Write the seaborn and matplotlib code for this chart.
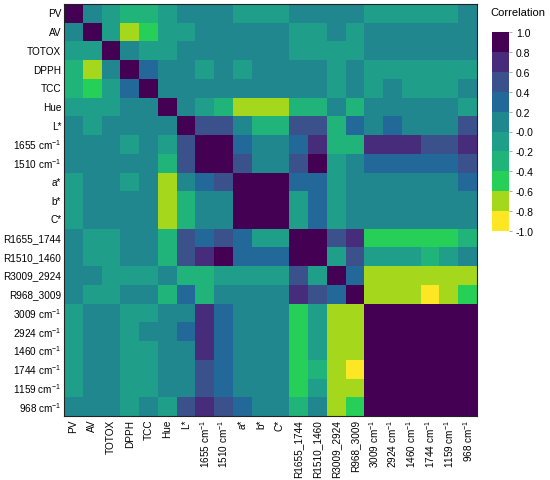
import numpy as np
import pandas as pd
import matplotlib
matplotlib.use("Agg")
import matplotlib.pyplot as plt
from matplotlib.colors import ListedColormap
import seaborn as sns

labels = ["PV", "AV", "TOTOX", "DPPH", "TCC", "Hue", "L*",
          "1655 cm$^{-1}$", "1510 cm$^{-1}$", "a*", "b*", "C*",
          "R1655_1744", "R1510_1460", "R3009_2924", "R968_3009",
          "3009 cm$^{-1}$", "2924 cm$^{-1}$", "1460 cm$^{-1}$",
          "1744 cm$^{-1}$", "1159 cm$^{-1}$", "968 cm$^{-1}$"]

# lower triangle of the correlation matrix (row by row, diagonal included)
r_pv = [1.0]
r_av = [0.1, 1.0]
r_totox = [-0.1, -0.1, 1.0]
r_dpph = [-0.3, -0.7, 0.1, 1.0]
r_tcc = [-0.3, -0.5, -0.1, 0.3, 1.0]
r_hue = [-0.1, -0.1, -0.1, 0.1, 0.1, 1.0]
r_l = [0.1, -0.1, 0.1, 0.1, 0.1, 0.1, 1.0]
r_1655 = [0.1, 0.1, 0.1, -0.1, 0.1, -0.1, 0.5, 1.0]
r_1510 = [0.1, 0.1, 0.1, 0.1, 0.1, -0.3, 0.5, 0.92, 1.0]
r_a = [-0.1, 0.1, 0.1, -0.1, 0.1, -0.7, 0.1, 0.3, 0.5, 1.0]
r_b = [-0.1, 0.1, 0.1, 0.1, 0.1, -0.7, -0.3, 0.1, 0.1, 0.95, 1.0]
r_c = [-0.1, 0.1, 0.1, 0.1, 0.1, -0.7, -0.3, 0.1, 0.1, 0.95, 0.98, 1.0]
r_r1655 = [0.1, -0.1, -0.1, 0.1, 0.1, -0.3, 0.5, 0.3, 0.5, 0.3, -0.1, -0.1, 1.0]
r_r1510 = [0.1, -0.1, -0.1, 0.1, 0.1, -0.3, 0.5, 0.7, 0.92, 0.3, 0.3, 0.3, 0.92, 1.0]
r_r3009 = [0.1, 0.1, -0.1, -0.1, -0.1, 0.1, -0.3, -0.3, -0.1, -0.1, -0.1, -0.1,
           0.5, -0.1, 1.0]
r_r968 = [0.1, -0.1, -0.1, 0.1, 0.1, -0.3, 0.3, -0.3, 0.1, 0.1, 0.1, 0.1,
          0.7, 0.5, 0.3, 1.0]
r_3009 = [-0.1, 0.1, 0.1, -0.1, -0.1, 0.1, 0.1, 0.7, 0.3, 0.1, 0.1, 0.1,
          -0.5, -0.1, -0.7, -0.7, 1.0]
r_2924 = [-0.1, 0.1, 0.1, -0.1, 0.1, 0.1, 0.3, 0.7, 0.3, 0.1, 0.1, 0.1,
          -0.5, -0.1, -0.7, -0.7, 0.98, 1.0]
r_1460 = [-0.1, 0.1, 0.1, -0.1, -0.1, 0.1, 0.1, 0.7, 0.3, 0.1, 0.1, 0.1,
          -0.5, -0.1, -0.7, -0.7, 0.97, 0.99, 1.0]
r_1744 = [-0.1, 0.1, 0.1, -0.1, -0.1, 0.1, 0.1, 0.5, 0.3, 0.1, 0.1, 0.1,
          -0.5, -0.3, -0.7, -0.9, 0.95, 0.96, 0.97, 1.0]
r_1159 = [-0.1, 0.1, 0.1, -0.1, -0.1, 0.1, 0.1, 0.5, 0.3, 0.1, 0.1, 0.1,
          -0.5, -0.1, -0.7, -0.7, 0.95, 0.96, 0.97, 0.99, 1.0]
r_968 = [0.1, 0.1, 0.1, -0.1, 0.1, -0.1, 0.5, 0.7, 0.5, 0.3, 0.1, 0.1,
         -0.3, 0.1, -0.7, -0.5, 0.93, 0.94, 0.95, 0.94, 0.95, 1.0]

rows = [r_pv, r_av, r_totox, r_dpph, r_tcc, r_hue, r_l, r_1655, r_1510, r_a,
        r_b, r_c, r_r1655, r_r1510, r_r3009, r_r968, r_3009, r_2924, r_1460,
        r_1744, r_1159, r_968]

n = len(labels)
corr = np.zeros((n, n))
for i, r in enumerate(rows):
    for j, v in enumerate(r):
        corr[i, j] = v
        corr[j, i] = v
df = pd.DataFrame(corr, index=labels, columns=labels)

# 10 discrete steps, -1 (yellow) -> 1 (dark purple)
colors = ["#fde725", "#a5d81c", "#26cf58", "#21b47a", "#1f9e89",
          "#21878e", "#22699a", "#3b518b", "#472c7c", "#440154"]
cmap = ListedColormap(colors)

plt.rcParams["font.family"] = ["Liberation Sans", "DejaVu Sans"]
plt.rcParams["mathtext.fontset"] = "custom"
plt.rcParams["mathtext.rm"] = "Liberation Sans"
plt.rcParams["mathtext.it"] = "Liberation Sans:italic"

fig = plt.figure(figsize=(5.5, 4.81), dpi=100)
ax = fig.add_axes([64 / 550, 1 - 417 / 481, 413 / 550, 412 / 481])
cax = fig.add_axes([492 / 550, 1 - 232 / 481, 17 / 550, 199 / 481])

sns.heatmap(df, cmap=cmap, vmin=-1, vmax=1, ax=ax, cbar_ax=cax,
            xticklabels=True, yticklabels=True)

for s in ax.spines.values():
    s.set_visible(True)
    s.set_linewidth(0.8)
    s.set_color("#222222")
ax.tick_params(axis="both", length=0, labelsize=7.2, pad=2)
ax.set_xticklabels(labels, rotation=90, family="Liberation Sans")
ax.set_yticklabels(labels, rotation=0, family="Liberation Sans")

ticks = np.round(np.arange(-1, 1.01, 0.2), 1)
cbar = ax.collections[0].colorbar
cbar.set_ticks(ticks)
cbar.set_ticklabels([f"{t:.1f}" for t in ticks])
cbar.outline.set_visible(False)
cax.tick_params(length=2, width=0.5, labelsize=7.5, pad=3, color="#888888")
fig.text(518 / 550, 1 - 13 / 481, "Correlation", ha="center", va="center", fontsize=8)

fig.savefig("out.png", dpi=100)
